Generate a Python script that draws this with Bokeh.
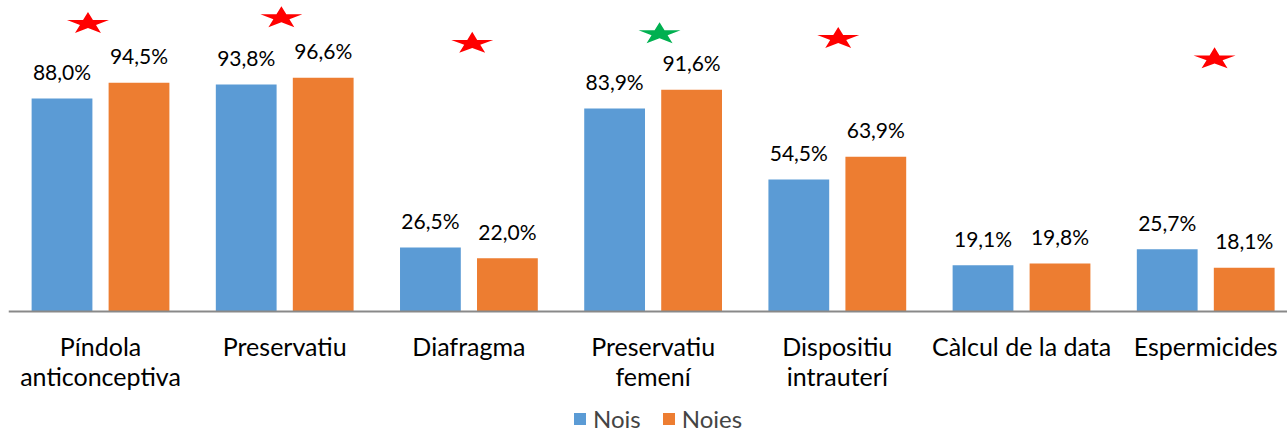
import numpy as np
from bokeh.plotting import figure
from bokeh.models import Range1d, Span, Legend, LegendItem
from bokeh.core.properties import value
from bokeh.embed import file_html
from bokeh.resources import INLINE

# ---- data ----
categories = ["Píndola\nanticonceptiva", "Preservatiu", "Diafragma",
              "Preservatiu\nfemení", "Dispositiu\nintrauterí",
              "Càlcul de la data", "Espermicides"]
nois = [88.0, 93.8, 26.5, 83.9, 54.5, 19.1, 25.7]
noies = [94.5, 96.6, 22.0, 91.6, 63.9, 19.8, 18.1]
series_names = ["Nois", "Noies"]
series_colors = ["#5B9BD5", "#ED7D31"]

# significance stars: category position (index + small shift), height (value units), colour
star_x = [-0.068, 0.982, 2.018, 3.035, 4.005, 6.048]
star_y = [119.4, 121.8, 111.2, 115.2, 113.2, 104.8]
star_color = ["#FF0000", "#FF0000", "#FF0000", "#00B050", "#FF0000", "#FF0000"]

FONT = "Lato"

p = figure(width=1287, height=433, output_backend="svg", toolbar_location=None,
           x_range=Range1d(-0.4995, 6.444), y_range=Range1d(-50.4, 128.5),
           min_border=0, min_border_left=8, min_border_right=0,
           min_border_top=0, min_border_bottom=0)
p.axis.visible = False
p.xgrid.visible = False
p.ygrid.visible = False
p.outline_line_color = None
p.background_fill_color = "white"
p.border_fill_color = "white"

idx = np.arange(len(categories))
off = 0.209
bw = 0.33

r_nois = p.vbar(x=idx - off, top=nois, bottom=0, width=bw,
                fill_color=series_colors[0], line_color=None)
r_noies = p.vbar(x=idx + off, top=noies, bottom=0, width=bw,
                 fill_color=series_colors[1], line_color=None)

# baseline (category axis line)
p.add_layout(Span(location=0, dimension="width", line_color="#898989", line_width=2))

# value labels
def fmt(v):
    return f"{v:.1f}".replace(".", ",") + "%"

lab_x = list(idx - off) + list(idx + off)
lab_y = nois + noies
lab_t = [fmt(v) for v in nois] + [fmt(v) for v in noies]
p.text(x=lab_x, y=lab_y, text=lab_t, text_align="center", text_baseline="middle",
       y_offset=-27, text_font=value(FONT), text_font_size="21px", text_color="#000000")

# category labels (split on newline)
l1x, l1t, l2x, l2t = [], [], [], []
for i, c in enumerate(categories):
    parts = c.split("\n")
    l1x.append(i); l1t.append(parts[0])
    if len(parts) > 1:
        l2x.append(i); l2t.append(parts[1])
p.text(x=l1x, y=[0] * len(l1x), text=l1t, text_align="center", text_baseline="middle",
       y_offset=34, text_font=value(FONT), text_font_size="25px", text_color="#000000")
p.text(x=l2x, y=[0] * len(l2x), text=l2t, text_align="center", text_baseline="middle",
       y_offset=64, text_font=value(FONT), text_font_size="25px", text_color="#000000")

# stars as flattened five-point polygons
W = 42 / 184.2      # width in x units
H = 21 / 2.42       # height in y units
ang_out = np.deg2rad(90 + 72 * np.arange(5))
ang_in = np.deg2rad(90 + 36 + 72 * np.arange(5))
r_in = 0.382
ux, uy = [], []
for k in range(5):
    ux += [np.cos(ang_out[k]), r_in * np.cos(ang_in[k])]
    uy += [np.sin(ang_out[k]), r_in * np.sin(ang_in[k])]
ux = np.array(ux); uy = np.array(uy)
ux = (ux - (ux.max() + ux.min()) / 2) / (ux.max() - ux.min())
uy = (uy - (uy.max() + uy.min()) / 2) / (uy.max() - uy.min())
xs = [list(cx + ux * W) for cx in star_x]
ys = [list(cy + uy * H) for cy in star_y]
p.patches(xs=xs, ys=ys, fill_color=star_color, line_color=None)

legend = Legend(items=[LegendItem(label=series_names[0], renderers=[r_nois]),
                       LegendItem(label=series_names[1], renderers=[r_noies])],
                orientation="horizontal", location=(564, 0),
                padding=0, margin=0, spacing=20, label_standoff=6,
                glyph_width=15, glyph_height=15,
                label_text_font=FONT, label_text_font_size="24px",
                border_line_alpha=0, background_fill_alpha=0)
p.add_layout(legend, "center")

open("out.html", "w").write(file_html(p, INLINE))
